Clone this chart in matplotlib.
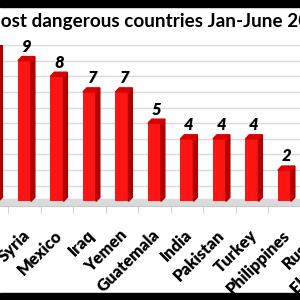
import numpy as np
import matplotlib
matplotlib.use('Agg')
import matplotlib.pyplot as plt
import matplotlib.transforms as mtransforms
from matplotlib.patches import Polygon, Rectangle

plt.rcParams.update({'font.family': ['Lato', 'DejaVu Sans']})

# data (first and last bars are cropped in the reference)
countries = ['Afghanistan', 'Syria', 'Mexico', 'Iraq', 'Yemen', 'Guatemala',
             'India', 'Pakistan', 'Turkey', 'Philippines', 'Russia', 'El Salvador']
deaths = [10, 9, 8, 7, 7, 5, 4, 4, 4, 2, 2, 2]
title = 'Most dangerous countries Jan-June 2016'

front = '#ff1414'
side = '#b00000'
top = '#d80000'

fig = plt.figure(figsize=(3, 3), dpi=100)
# axes run past the figure edges so the chart looks cropped like the reference
ax = fig.add_axes([-0.081, 0.313, 1.3, 0.537])
n = len(countries)
x = np.arange(n)
w = 0.4
dx, dy = 0.12, 0.26

ax.set_xlim(-0.5, n - 0.5)
ax.set_ylim(-0.3, 10)
ax.set_yticks(range(0, 11))
ax.yaxis.grid(True, color='#d9d9d9', lw=1)
ax.set_axisbelow(True)
ax.tick_params(axis='y', length=0, labelleft=False)

# floor
ax.axhspan(-0.3, 0.15, color='#dadada', zorder=1)

for xi, h in zip(x, deaths):
    ax.bar(xi, h, width=w, color=front, zorder=3)
    ax.add_patch(Polygon([(xi + w/2, 0), (xi + w/2 + dx, dy), (xi + w/2 + dx, h + dy), (xi + w/2, h)],
                         closed=True, color=side, zorder=3))
    ax.add_patch(Polygon([(xi - w/2, h), (xi + w/2, h), (xi + w/2 + dx, h + dy), (xi - w/2 + dx, h + dy)],
                         closed=True, color=top, zorder=3))
    if xi > 0:
        ax.text(xi + dx/2, h + dy + 0.1, str(h), ha='center', va='bottom',
                fontsize=12, fontweight='heavy', fontstyle='italic')

ax.set_xticks(x)
ax.set_xticklabels(countries, rotation=45, ha='right', rotation_mode='anchor',
                   fontsize=12, fontweight='heavy')
ax.tick_params(axis='x', which='major', length=0, pad=15)
shift = mtransforms.ScaledTranslation(-3/100, 0, fig.dpi_scale_trans)
for lab in ax.get_xticklabels():
    lab.set_transform(lab.get_transform() + shift)
ax.set_xticks(x[:-1] + 0.5, minor=True)
ax.tick_params(axis='x', which='minor', length=5, color='#c8c8c8')
for s in ['top', 'right', 'left']:
    ax.spines[s].set_visible(False)
ax.spines['bottom'].set_color('#c8c8c8')

fig.text(-17/300, 1 - 22/300, title, ha='left', va='center', fontsize=13.6, fontweight='bold')

# black bands top and bottom
fig.patches.append(Rectangle((0, 1 - 7/300), 1, 7/300, transform=fig.transFigure, color='black'))
fig.patches.append(Rectangle((0, 0), 1, 7/300, transform=fig.transFigure, color='black'))

fig.savefig('out.png', dpi=100)
